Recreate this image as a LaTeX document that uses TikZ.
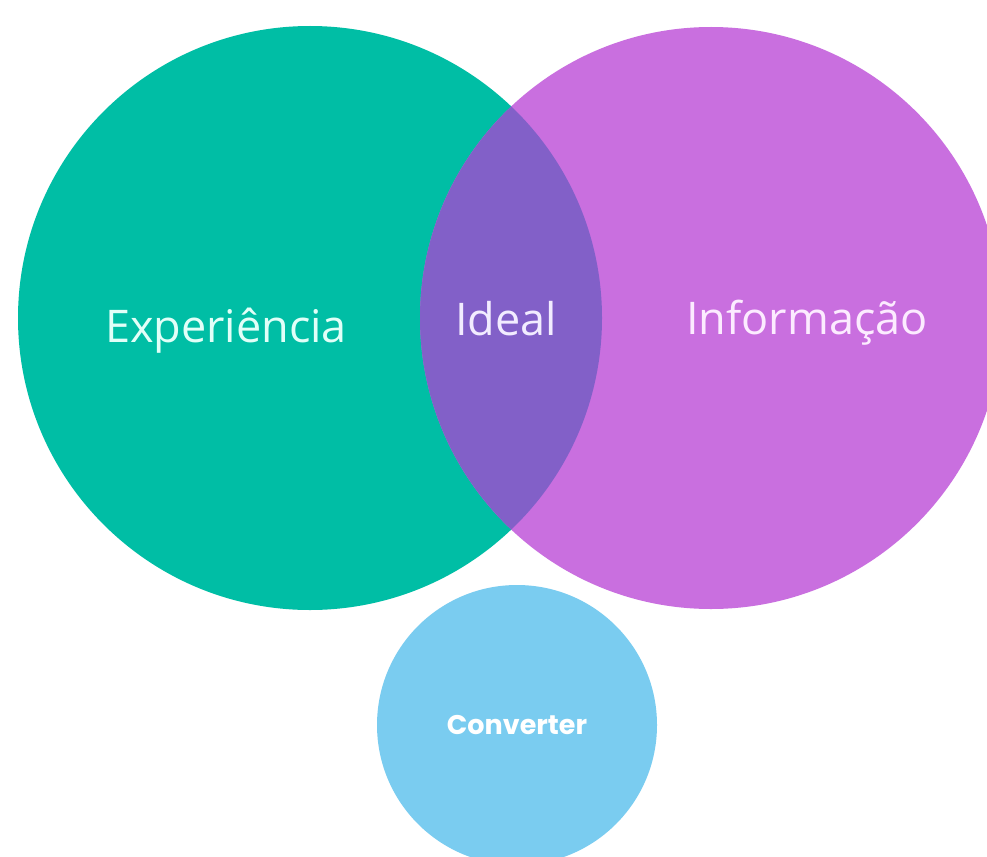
\documentclass[tikz,border=0pt]{standalone}
\usepackage{fontspec}
\setmainfont{Open Sans}
\newfontfamily\convfont{Poppins}
\definecolor{vgreen}{RGB}{0,190,165}
\definecolor{vpurple}{RGB}{201,111,223}
\definecolor{vmix}{RGB}{130,96,200}
\definecolor{vblue}{RGB}{122,204,240}
\definecolor{tgreen}{RGB}{225,255,248}
\definecolor{tpurple}{RGB}{252,235,255}
\definecolor{tmix}{RGB}{242,236,255}
\tikzset{
  bigcircle/.style={circle, inner sep=0pt, minimum size=#1},
  label big/.style={font=\fontsize{45}{52}\selectfont, anchor=base, inner sep=0pt},
}
\begin{document}
\begin{tikzpicture}[x=1pt,y=-1pt]
\useasboundingbox[fill=white] (0,0) rectangle (987,856);
\node[bigcircle=584pt, fill=vgreen] (exp) at (310,318) {};
\node[bigcircle=582pt, fill=vpurple] (inf) at (711,318) {};
\begin{scope}
  \clip (exp.center) circle[radius=292pt];
  \fill[vmix] (inf.center) circle[radius=291pt];
\end{scope}
\node[bigcircle=280pt, fill=vblue, text=white, font=\convfont\bfseries\fontsize{27}{31}\selectfont] (conv) at (517,725) {Converter};
\node[label big, text=tgreen] (texp) at (226,342) {Experiência};
\node[label big, text=tmix] (tideal) at (506,335) {Ideal};
\node[label big, text=tpurple] (tinf) at (807,334) {Informação};
\end{tikzpicture}
\end{document}
